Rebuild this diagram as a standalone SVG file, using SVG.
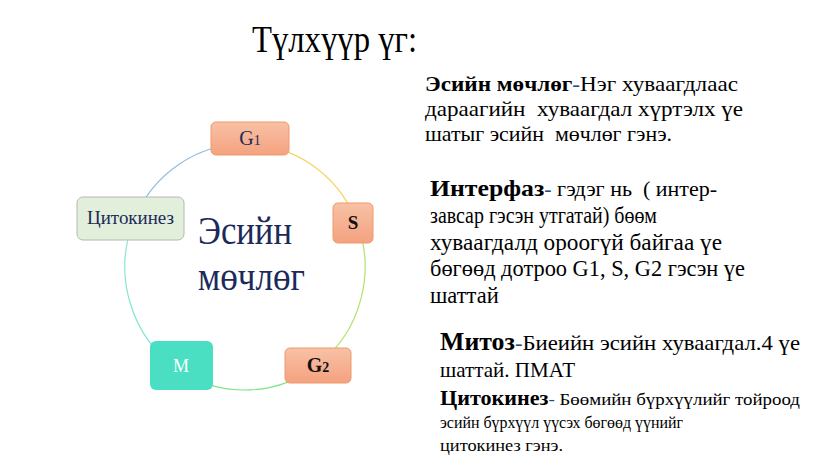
<svg xmlns="http://www.w3.org/2000/svg" width="823" height="474" viewBox="0 0 823 474">
<style>
text{font-family:"Liberation Serif","DejaVu Serif",serif;}
.arc{fill:none;stroke-width:1.2;}
.orange{stroke:#ee9a6a;stroke-width:1;}
.navy{fill:#1c2a5a;}
.dash{fill:#1f4e79;}
.b{font-weight:bold;}
</style>
<defs>
<linearGradient id="og" x1="0" y1="0" x2="0" y2="1">
<stop offset="0" stop-color="#f8c1a6"/>
<stop offset="1" stop-color="#f4a27f"/>
</linearGradient>
</defs>
<rect width="823" height="474" fill="#ffffff"/>
<text x="252" y="52" font-size="37" fill="#000" textLength="165" lengthAdjust="spacingAndGlyphs">Түлхүүр үг:</text>
<g id="connectors">
<path class="arc" stroke="#f7d25a" d="M 245 144 A 120 123 0 0 1 355.5 218.9"/>
<path class="arc" stroke="#ade46e" d="M 355.5 218.9 A 120 123 0 0 1 317.2 365.2"/>
<path class="arc" stroke="#78e47e" d="M 317.2 365.2 A 120 123 0 0 1 179.6 370.2"/>
<path class="arc" stroke="#86e6d2" d="M 179.6 370.2 A 120 123 0 0 1 134.5 218.9"/>
<path class="arc" stroke="#94bae2" d="M 134.5 218.9 A 120 123 0 0 1 245 144"/>
</g>
<g id="center-label">
<text x="198" y="244" font-size="39" class="navy" textLength="94" lengthAdjust="spacingAndGlyphs">Эсийн</text>
<text x="198" y="290" font-size="39" class="navy" textLength="107" lengthAdjust="spacingAndGlyphs">мөчлөг</text>
</g>
<g id="node-g1">
<rect x="211" y="122" width="78" height="33" rx="5" fill="url(#og)" class="orange"/>
<text x="250" y="145" font-size="20" text-anchor="middle" class="navy">G<tspan font-size="14">1</tspan></text>
</g>
<g id="node-s">
<rect x="333" y="203" width="40" height="40" rx="5" fill="url(#og)" class="orange"/>
<text x="353" y="229" font-size="19" text-anchor="middle" class="b" fill="#111">S</text>
</g>
<g id="node-g2">
<rect x="285" y="348" width="66" height="35" rx="5" fill="url(#og)" class="orange"/>
<text x="318" y="372" font-size="20" text-anchor="middle" class="b" fill="#111">G<tspan font-size="14">2</tspan></text>
</g>
<g id="node-m">
<rect x="150" y="341" width="63" height="49" rx="6" fill="#4adfc2"/>
<text x="181" y="372" font-size="18" text-anchor="middle" fill="#ffffff">M</text>
</g>
<g id="node-cytokinesis">
<rect x="77" y="197" width="107" height="43" rx="6" fill="#e2efda" stroke="#b4b8b2" stroke-width="1"/>
<text x="87" y="224" font-size="18" class="navy" textLength="87" lengthAdjust="spacingAndGlyphs">Цитокинез</text>
</g>
<g id="text-cycle" font-size="21" fill="#000">
<text x="425" y="91" textLength="313" lengthAdjust="spacingAndGlyphs"><tspan class="b">Эсийн мөчлөг</tspan><tspan class="dash">-</tspan>Нэг хуваагдлаас</text>
<text x="425" y="116" xml:space="preserve" textLength="318" lengthAdjust="spacingAndGlyphs">дараагийн  хуваагдал хүртэлх үе</text>
<text x="425" y="141" xml:space="preserve" textLength="247" lengthAdjust="spacingAndGlyphs">шатыг эсийн  мөчлөг гэнэ.</text>
</g>
<g id="text-interphase" fill="#000">
<text x="430" y="196" font-size="20.5" xml:space="preserve" textLength="287" lengthAdjust="spacingAndGlyphs"><tspan class="b" font-size="24">Интерфаз</tspan><tspan class="dash">- </tspan>гэдэг нь  ( интер-</text>
<text x="430" y="223" font-size="22.5" textLength="227" lengthAdjust="spacingAndGlyphs">завсар гэсэн утгатай) бөөм</text>
<text x="430" y="250" font-size="22.5" textLength="292" lengthAdjust="spacingAndGlyphs">хуваагдалд ороогүй байгаа үе</text>
<text x="430" y="276" font-size="22.5" textLength="315" lengthAdjust="spacingAndGlyphs">бөгөөд дотроо G1, S, G2 гэсэн үе</text>
<text x="430" y="303" font-size="22.5">шаттай</text>
</g>
<g id="text-mitosis" fill="#000">
<text x="440" y="350" font-size="22" textLength="360" lengthAdjust="spacingAndGlyphs"><tspan class="b" font-size="25">Митоз</tspan><tspan class="dash">-</tspan>Биеийн эсийн хуваагдал.4 үе</text>
<text x="440" y="377" font-size="22" textLength="135" lengthAdjust="spacingAndGlyphs">шаттай. ПМАТ</text>
</g>
<g id="text-cytokinesis" fill="#000">
<text x="440" y="405" font-size="17.5" textLength="360" lengthAdjust="spacingAndGlyphs"><tspan class="b" font-size="20.5">Цитокинез</tspan><tspan class="dash">-</tspan> Бөөмийн бүрхүүлийг тойроод</text>
<text x="440" y="428" font-size="17.5" textLength="243" lengthAdjust="spacingAndGlyphs">эсийн бүрхүүл үүсэх бөгөөд үүнийг</text>
<text x="440" y="451" font-size="17.5" textLength="123" lengthAdjust="spacingAndGlyphs">цитокинез гэнэ.</text>
</g>
</svg>
